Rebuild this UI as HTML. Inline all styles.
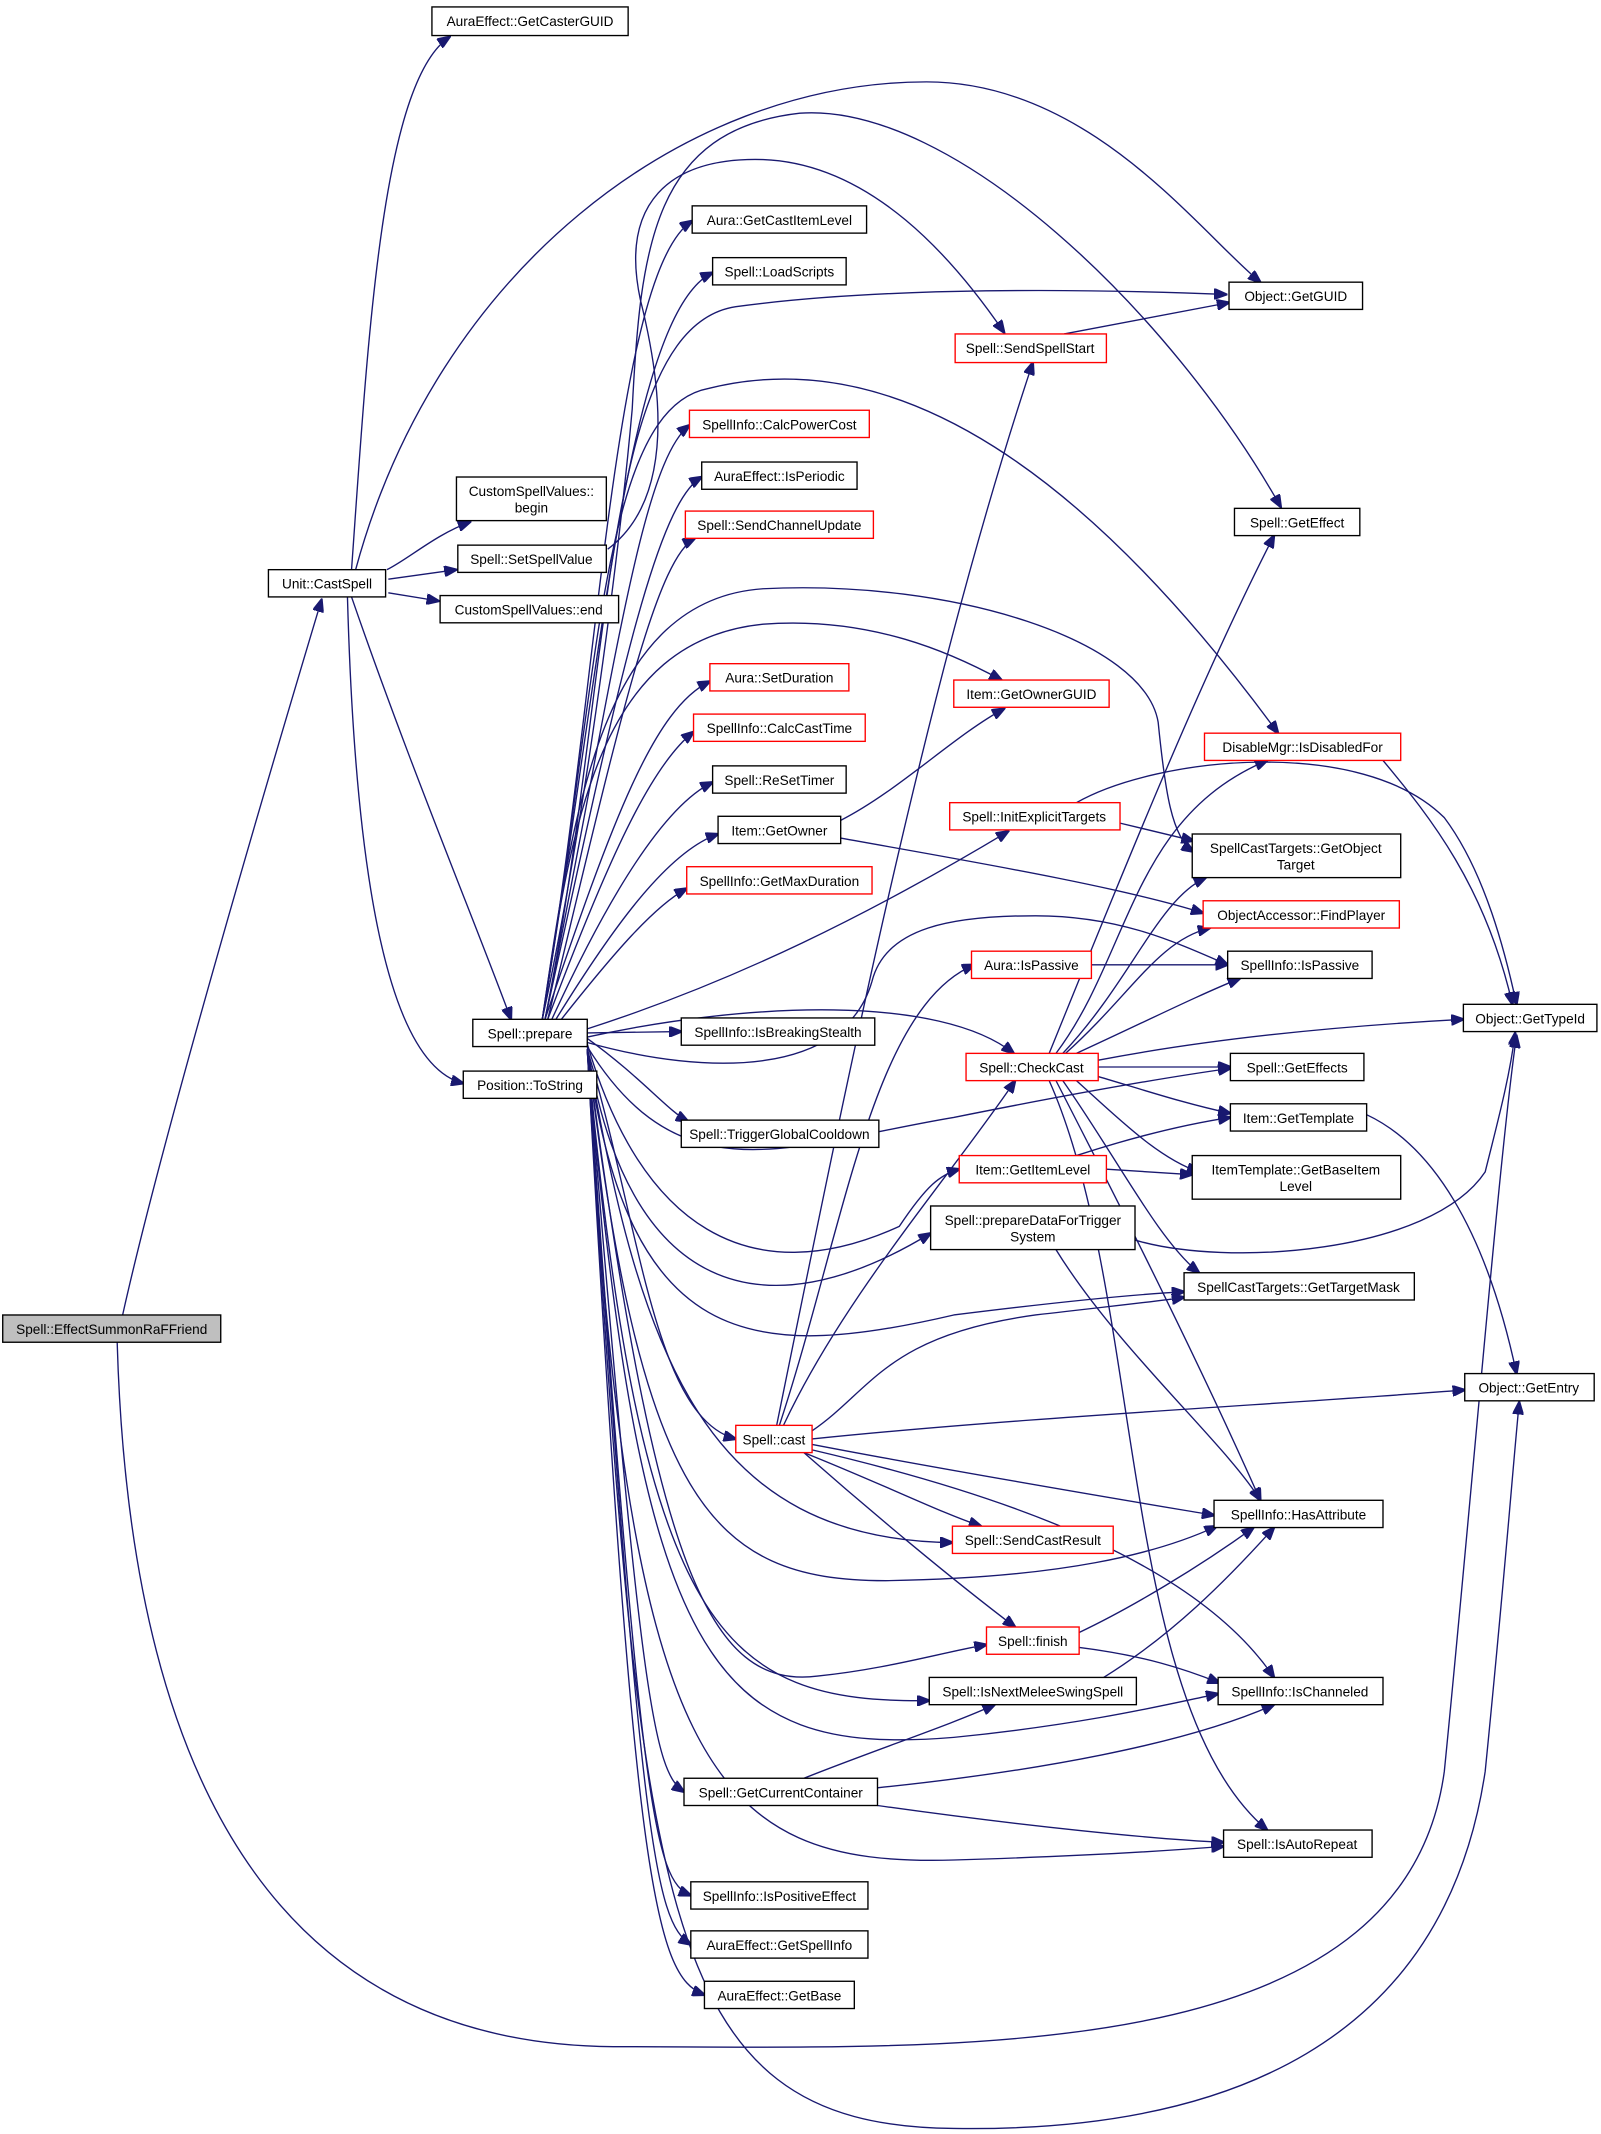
<!DOCTYPE html>
<html><head><meta charset="utf-8"><style>
html,body{margin:0;padding:0;background:#fff}
svg{display:block}
text{font-family:"Liberation Sans",sans-serif;font-size:10px;fill:#000}
.n{fill:#fff;stroke:#000;stroke-width:1}
.r{fill:#fff;stroke:#ff0000;stroke-width:1}
.g{fill:#bfbfbf;stroke:#000;stroke-width:1}
path{fill:none;stroke:#191970;stroke-width:1;marker-end:url(#a)}
</style></head><body>
<svg width="1601" height="2134" viewBox="0 0 1175 1566" xmlns="http://www.w3.org/2000/svg">
<defs><marker id="a" markerWidth="10" markerHeight="8" refX="9" refY="4" orient="auto" markerUnits="userSpaceOnUse"><polygon points="0,0 10,4 0,8" fill="#191970" stroke="#191970"/></marker></defs>
<g>
<path d="M90,965 C120,830 200,560 236,440"/>
<path d="M86,985 C95,1300 200,1500 450,1502 C700,1502 1030,1520 1060,1300 C1080,1100 1100,850 1113,760"/>
<path d="M258,418 C270,250 280,60 330,27"/>
<path d="M261,418 C320,200 500,60 680,60 C800,60 880,170 925,207"/>
<path d="M284,418 C300,410 320,392 345,383"/>
<path d="M285,425 L335,418"/>
<path d="M285,435 L322,441"/>
<path d="M258,438 C300,560 350,680 375,748"/>
<path d="M255,438 C260,620 280,780 340,795"/>
<path d="M446,403 C490,370 490,300 470,220 C455,150 490,115 560,117 C640,120 700,190 737,244"/>
<path d="M398,748 C430,600 455,400 464,300 C470,180 480,95 587,83 C700,75 860,230 940,372"/>
<path d="M398,748 C440,500 450,200 508,162"/>
<path d="M398,748 C440,500 460,230 523,200"/>
<path d="M400,748 C450,500 440,240 540,225 C650,210 800,212 900,216"/>
<path d="M400,748 C450,500 470,340 506,312"/>
<path d="M400,748 C450,520 480,370 515,350"/>
<path d="M402,748 C450,550 480,410 510,395"/>
<path d="M398,748 C440,500 440,300 520,285 C660,250 800,350 938,538"/>
<path d="M400,748 C450,600 480,520 521,500"/>
<path d="M402,748 C450,620 480,560 509,537"/>
<path d="M405,748 C450,650 490,590 523,574"/>
<path d="M408,748 C450,680 490,625 527,612"/>
<path d="M412,748 C450,700 480,665 504,652"/>
<path d="M398,748 C420,600 440,470 560,458 C640,452 700,480 735,499"/>
<path d="M398,748 C420,600 440,440 560,432 C700,425 840,470 850,530 C855,580 860,615 876,625"/>
<path d="M431,755 C540,720 640,670 740,610"/>
<path d="M431,758 L500,757"/>
<path d="M431,761 C550,735 690,730 744,773"/>
<path d="M431,765 C520,790 620,790 640,720 C650,680 700,672 760,672 C820,672 860,690 901,708"/>
<path d="M431,762 C470,790 490,815 505,823"/>
<path d="M431,768 C500,880 580,840 700,820 C800,800 860,790 903,784"/>
<path d="M431,766 C470,900 550,950 660,900 C680,870 690,862 704,858"/>
<path d="M431,768 C460,950 560,980 683,905"/>
<path d="M431,770 C460,990 550,1000 700,965 C780,955 830,950 869,948"/>
<path d="M431,770 C470,900 480,1040 540,1056"/>
<path d="M431,770 C470,1000 520,1130 699,1132"/>
<path d="M431,770 C470,1100 520,1160 650,1160 C780,1158 850,1140 893,1120"/>
<path d="M431,770 C480,1150 520,1240 600,1230 C650,1225 690,1213 724,1207"/>
<path d="M431,770 C470,1200 530,1250 682,1248"/>
<path d="M431,770 C470,1220 520,1290 700,1275 C800,1265 860,1250 894,1243"/>
<path d="M431,770 C470,1250 480,1300 502,1315"/>
<path d="M431,770 C460,1300 520,1370 700,1365 C800,1362 860,1358 898,1355"/>
<path d="M431,770 C470,1330 480,1380 507,1391"/>
<path d="M431,770 C470,1350 480,1410 507,1427"/>
<path d="M431,770 C465,1380 480,1450 517,1464"/>
<path d="M431,770 C470,1400 480,1560 700,1562 C900,1565 1060,1500 1090,1300 C1105,1150 1110,1080 1115,1029"/>
<path d="M617,602 C660,580 700,540 737,520"/>
<path d="M617,615 C700,630 820,650 883,670"/>
<path d="M570,1046 C620,800 680,500 758,266"/>
<path d="M575,1046 C620,950 700,860 745,793"/>
<path d="M572,1046 C620,900 640,740 715,708"/>
<path d="M596,1050 C640,1020 650,980 760,965 C820,958 850,955 869,952"/>
<path d="M596,1056 C750,1040 950,1030 1075,1020"/>
<path d="M596,1060 C700,1080 820,1100 891,1112"/>
<path d="M590,1066 C650,1090 690,1110 720,1120"/>
<path d="M590,1066 C640,1110 700,1160 745,1194"/>
<path d="M596,1064 C750,1100 880,1150 935,1231"/>
<path d="M792,1198 C830,1180 880,1150 920,1121"/>
<path d="M792,1209 C840,1215 870,1225 895,1235"/>
<path d="M810,1231 C860,1200 900,1160 935,1121"/>
<path d="M590,1305 C640,1285 700,1265 730,1251"/>
<path d="M644,1312 C760,1300 870,1280 935,1251"/>
<path d="M644,1325 C750,1340 850,1350 898,1352"/>
<path d="M775,917 C820,990 900,1060 925,1101"/>
<path d="M833,910 C900,930 1050,920 1090,860 C1100,820 1108,790 1112,758"/>
<path d="M822,604 L876,617"/>
<path d="M790,589 C850,555 1000,540 1060,600 C1090,640 1105,700 1113,737"/>
<path d="M1015,558 C1050,600 1090,650 1110,737"/>
<path d="M801,708 L901,708"/>
<path d="M781,245 L902,222"/>
<path d="M790,848 C830,835 870,825 903,820"/>
<path d="M812,858 L875,862"/>
<path d="M1003,818 C1050,840 1090,900 1113,1008"/>
<path d="M770,773 C820,650 880,500 935,393"/>
<path d="M775,773 C830,700 830,600 930,558"/>
<path d="M780,773 C830,720 850,660 885,644"/>
<path d="M782,773 C830,730 850,690 888,681"/>
<path d="M790,773 C840,750 880,730 910,718"/>
<path d="M806,778 C900,760 1000,752 1074,748"/>
<path d="M806,783 L903,783"/>
<path d="M806,790 C840,800 870,810 903,817"/>
<path d="M790,793 C820,820 850,850 880,860"/>
<path d="M780,793 C820,850 850,910 880,934"/>
<path d="M775,793 C830,900 880,1000 925,1101"/>
<path d="M770,793 C840,950 820,1250 930,1343"/>
</g>
<g text-anchor="middle">
<rect class="g" x="2" y="965" width="160" height="20"/><text x="82" y="979">Spell::EffectSummonRaFFriend</text>
<rect class="n" x="197" y="418" width="86" height="20"/><text x="240" y="432">Unit::CastSpell</text>
<rect class="n" x="317" y="5" width="144" height="21"/><text x="389" y="19">AuraEffect::GetCasterGUID</text>
<rect class="n" x="335" y="350" width="110" height="32"/><text x="390" y="364">CustomSpellValues::</text><text x="390" y="376">begin</text>
<rect class="n" x="336" y="400" width="109" height="20"/><text x="390" y="414">Spell::SetSpellValue</text>
<rect class="n" x="323" y="437" width="131" height="20"/><text x="388" y="451">CustomSpellValues::end</text>
<rect class="n" x="347" y="748" width="84" height="20"/><text x="389" y="762">Spell::prepare</text>
<rect class="n" x="340" y="786" width="98" height="20"/><text x="389" y="800">Position::ToString</text>
<rect class="n" x="508" y="151" width="128" height="20"/><text x="572" y="165">Aura::GetCastItemLevel</text>
<rect class="n" x="523" y="189" width="98" height="20"/><text x="572" y="203">Spell::LoadScripts</text>
<rect class="r" x="506" y="301" width="132" height="20"/><text x="572" y="315">SpellInfo::CalcPowerCost</text>
<rect class="n" x="515" y="339" width="114" height="20"/><text x="572" y="353">AuraEffect::IsPeriodic</text>
<rect class="r" x="503" y="375" width="138" height="20"/><text x="572" y="389">Spell::SendChannelUpdate</text>
<rect class="r" x="521" y="487" width="102" height="20"/><text x="572" y="501">Aura::SetDuration</text>
<rect class="r" x="509" y="524" width="126" height="20"/><text x="572" y="538">SpellInfo::CalcCastTime</text>
<rect class="n" x="523" y="562" width="98" height="20"/><text x="572" y="576">Spell::ReSetTimer</text>
<rect class="n" x="527" y="599" width="90" height="20"/><text x="572" y="613">Item::GetOwner</text>
<rect class="r" x="504" y="636" width="136" height="20"/><text x="572" y="650">SpellInfo::GetMaxDuration</text>
<rect class="n" x="500" y="747" width="142" height="20"/><text x="571" y="761">SpellInfo::IsBreakingStealth</text>
<rect class="n" x="500" y="822" width="145" height="20"/><text x="572" y="836">Spell::TriggerGlobalCooldown</text>
<rect class="r" x="704" y="848" width="108" height="20"/><text x="758" y="862">Item::GetItemLevel</text>
<rect class="n" x="683" y="885" width="150" height="32"/><text x="758" y="899">Spell::prepareDataForTrigger</text><text x="758" y="911">System</text>
<rect class="r" x="540" y="1046" width="56" height="20"/><text x="568" y="1060">Spell::cast</text>
<rect class="r" x="699" y="1120" width="118" height="20"/><text x="758" y="1134">Spell::SendCastResult</text>
<rect class="r" x="724" y="1194" width="68" height="20"/><text x="758" y="1208">Spell::finish</text>
<rect class="n" x="682" y="1231" width="152" height="20"/><text x="758" y="1245">Spell::IsNextMeleeSwingSpell</text>
<rect class="n" x="502" y="1305" width="142" height="20"/><text x="573" y="1319">Spell::GetCurrentContainer</text>
<rect class="n" x="507" y="1381" width="130" height="20"/><text x="572" y="1395">SpellInfo::IsPositiveEffect</text>
<rect class="n" x="507" y="1417" width="130" height="20"/><text x="572" y="1431">AuraEffect::GetSpellInfo</text>
<rect class="n" x="517" y="1454" width="110" height="20"/><text x="572" y="1468">AuraEffect::GetBase</text>
<rect class="r" x="701" y="245" width="111" height="21"/><text x="756" y="259">Spell::SendSpellStart</text>
<rect class="r" x="700" y="499" width="114" height="20"/><text x="757" y="513">Item::GetOwnerGUID</text>
<rect class="r" x="697" y="589" width="125" height="20"/><text x="759" y="603">Spell::InitExplicitTargets</text>
<rect class="r" x="713" y="698" width="88" height="20"/><text x="757" y="712">Aura::IsPassive</text>
<rect class="r" x="709" y="773" width="97" height="20"/><text x="757" y="787">Spell::CheckCast</text>
<rect class="n" x="902" y="207" width="98" height="20"/><text x="951" y="221">Object::GetGUID</text>
<rect class="n" x="906" y="373" width="92" height="20"/><text x="952" y="387">Spell::GetEffect</text>
<rect class="r" x="884" y="538" width="144" height="20"/><text x="956" y="552">DisableMgr::IsDisabledFor</text>
<rect class="n" x="875" y="612" width="153" height="32"/><text x="951" y="626">SpellCastTargets::GetObject</text><text x="951" y="638">Target</text>
<rect class="r" x="883" y="661" width="144" height="20"/><text x="955" y="675">ObjectAccessor::FindPlayer</text>
<rect class="n" x="901" y="698" width="106" height="20"/><text x="954" y="712">SpellInfo::IsPassive</text>
<rect class="n" x="903" y="773" width="98" height="20"/><text x="952" y="787">Spell::GetEffects</text>
<rect class="n" x="903" y="810" width="100" height="20"/><text x="953" y="824">Item::GetTemplate</text>
<rect class="n" x="875" y="848" width="153" height="32"/><text x="951" y="862">ItemTemplate::GetBaseItem</text><text x="951" y="874">Level</text>
<rect class="n" x="869" y="934" width="169" height="20"/><text x="953" y="948">SpellCastTargets::GetTargetMask</text>
<rect class="n" x="891" y="1101" width="124" height="20"/><text x="953" y="1115">SpellInfo::HasAttribute</text>
<rect class="n" x="894" y="1231" width="121" height="20"/><text x="954" y="1245">SpellInfo::IsChanneled</text>
<rect class="n" x="898" y="1343" width="109" height="20"/><text x="952" y="1357">Spell::IsAutoRepeat</text>
<rect class="n" x="1074" y="737" width="98" height="20"/><text x="1123" y="751">Object::GetTypeId</text>
<rect class="n" x="1075" y="1008" width="95" height="20"/><text x="1122" y="1022">Object::GetEntry</text>
</g>
</svg>
</body></html>
